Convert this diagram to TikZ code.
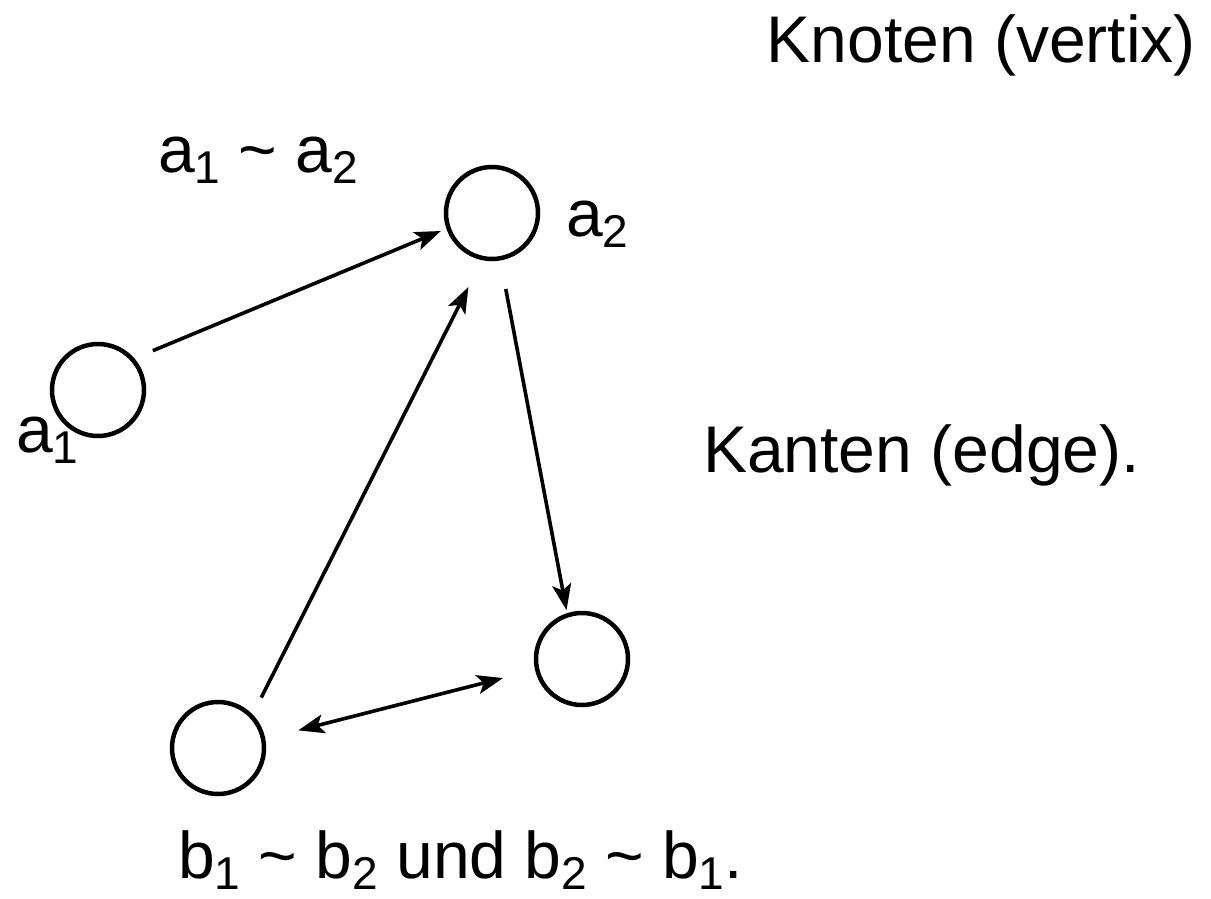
\documentclass[tikz,border=0pt]{standalone}
\usepackage{fontspec}
\setmainfont{Liberation Sans}
\usetikzlibrary{arrows.meta}
\newcommand{\lsub}[1]{\raisebox{-11pt}[\height][0pt]{\fontsize{46}{46}\selectfont #1}}
\tikzset{
  vert/.style={circle,draw,line width=4.5pt,minimum size=92pt,inner sep=0pt},
  edgearrow/.style={line width=3.6pt,-{Stealth[length=26pt,width=19pt,inset=6pt]}},
  biarrow/.style={line width=3.6pt,{Stealth[length=26pt,width=19pt,inset=6pt]}-{Stealth[length=26pt,width=19pt,inset=6pt]}},
  lbl/.style={inner sep=0pt,font=\fontsize{66}{66}\selectfont}
}
\begin{document}
\begin{tikzpicture}[x=1pt,y=1pt]
\useasboundingbox (0,0) rectangle (1211,-899);
\node[vert] (a1) at (98,-390) {};
\node[vert] (a2) at (492,-213) {};
\node[vert] (b2) at (582,-659) {};
\node[vert] (b1) at (218,-748) {};
\draw[edgearrow,shorten <=20pt,shorten >=6pt] (a1.41) -- (a2.199);
\draw[edgearrow,shorten <=19pt,shorten >=30pt] (b1.44) -- (a2.258);
\draw[edgearrow,shorten <=29pt,shorten >=3pt] (a2.280) -- (b2.108);
\draw[biarrow,shorten <=34pt,shorten >=33pt] (b1.11) -- (b2.193);
\node[lbl,anchor=base east] (t1) at (1196,-63) {Knoten (vertix)};
\node[lbl,anchor=base west] (t2) at (703,-472) {Kanten (edge).};
\node[lbl,anchor=base west] (t3) at (158,-172) {a\lsub{1} \textasciitilde{} a\lsub{2}};
\node[lbl,anchor=base west] (t4) at (566,-236) {a\lsub{2}};
\node[lbl,anchor=base west] (t5) at (16,-452) {a\lsub{1}};
\node[lbl,anchor=base west] (t6) at (178,-878) {b\lsub{1} \textasciitilde{} b\lsub{2} und b\lsub{2} \textasciitilde{} b\lsub{1}.};
\end{tikzpicture}
\end{document}
